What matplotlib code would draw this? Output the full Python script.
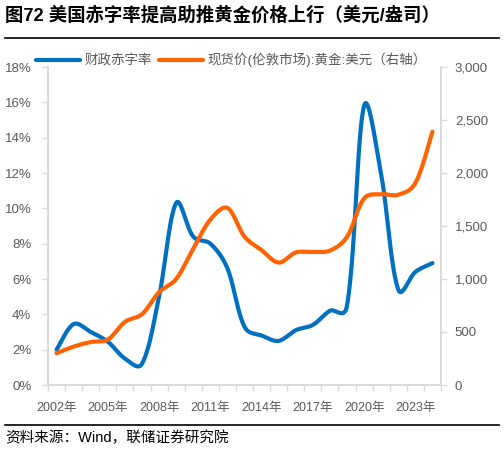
import numpy as np
import matplotlib.pyplot as plt
from matplotlib.lines import Line2D
from matplotlib.ticker import FuncFormatter, FixedLocator

plt.rcParams['font.family'] = ['Liberation Sans', 'Noto Sans CJK SC', 'DejaVu Sans']

years = list(range(2002, 2025))
# 财政赤字率 (%)
deficit = [2.0, 3.45, 3.0, 2.45, 1.5, 1.2, 5.0, 10.3, 8.4, 8.0, 6.6, 3.3,
           2.8, 2.5, 3.1, 3.4, 4.2, 4.5, 15.8, 11.9, 5.4, 6.4, 6.9]
# 黄金现货价 (美元/盎司)
gold = [300, 362, 405, 428, 595, 668, 875, 1000, 1285, 1560, 1670, 1400,
        1272, 1155, 1250, 1255, 1268, 1397, 1760, 1800, 1795, 1905, 2390]
xlabels = ['%d年' % y for y in years]

blue = '#0070C0'
orange = '#FF6200'
grey = '#595959'
axis_grey = '#D9D9D9'


def smooth(vals, ysc, xsc=17.09, steps=40, alpha=0.5):
    # excel-like smoothed line, built in pixel space so long jumps don't overshoot much
    P = np.column_stack([np.arange(len(vals)) * xsc, np.asarray(vals, float) * ysc])
    m = len(P)
    d = np.hypot(*(P[1:] - P[:-1]).T) ** alpha
    cout = np.zeros_like(P)
    cin = np.zeros_like(P)
    for i in range(m):
        prv = P[max(i - 1, 0)]
        nxt = P[min(i + 1, m - 1)]
        T = nxt - prv
        dp = d[i - 1] if i > 0 else 0.0
        dn = d[i] if i < m - 1 else 0.0
        if i == 0 or i == m - 1:
            dp = dn = 1.0
        tot = dp + dn
        cout[i] = P[i] + T * (dn / tot) / 3
        cin[i] = P[i] - T * (dp / tot) / 3
    t = np.linspace(0, 1, steps, endpoint=False)[:, None]
    pts = []
    for i in range(m - 1):
        b = ((1 - t)**3 * P[i] + 3 * (1 - t)**2 * t * cout[i]
             + 3 * (1 - t) * t**2 * cin[i + 1] + t**3 * P[i + 1])
        pts.append(b)
    pts.append(P[-1:])
    pts = np.vstack(pts)
    return pts[:, 0] / xsc, pts[:, 1] / ysc


fig = plt.figure(figsize=(5.04, 4.51), dpi=100)
ax = fig.add_axes([48 / 504, 1 - 385 / 451, 393 / 504, 318 / 451])
ax2 = ax.twinx()

x1, y1 = smooth(deficit, 318 / 18)
x2, y2 = smooth(gold, 318 / 3000)
l1, = ax.plot(x1, y1, color=blue, lw=3, solid_capstyle='round', label='财政赤字率')
l2, = ax2.plot(x2, y2, color=orange, lw=3, solid_capstyle='round',
               label='现货价(伦敦市场):黄金:美元（右轴）')

n = len(years)
ax.set_xlim(-0.5, n - 0.5)
ax.set_ylim(0, 18)
ax2.set_ylim(0, 3000)
ax.set_yticks(np.arange(0, 19, 2))
ax.yaxis.set_major_formatter(FuncFormatter(lambda v, p: '%d%%' % v))
ax2.set_yticks(np.arange(0, 3001, 500))
ax2.yaxis.set_major_formatter(FuncFormatter(lambda v, p: '{:,.0f}'.format(v)))

# ticks at category borders, labels every 3 years
ax.xaxis.set_major_locator(FixedLocator(np.arange(-0.5, n, 1)))
ax.xaxis.set_major_formatter(FuncFormatter(lambda v, p: ''))
ax.xaxis.set_minor_locator(FixedLocator(np.arange(0, n, 3)))
ax.xaxis.set_minor_formatter(FuncFormatter(lambda v, p: xlabels[int(round(v))]))
ax.tick_params(axis='x', which='major', direction='out', length=4, color=axis_grey, width=1)
ax.tick_params(axis='x', which='minor', length=0, pad=12, labelsize=9, labelcolor=grey)
ax.tick_params(axis='y', direction='out', length=4, color=axis_grey, width=1,
               labelsize=9.5, labelcolor=grey, pad=8)
ax2.tick_params(axis='y', direction='out', length=4, color=axis_grey, width=1,
                labelsize=9.5, labelcolor=grey, pad=6)

for a in (ax, ax2):
    a.spines['top'].set_visible(False)
    for s in ('left', 'right', 'bottom'):
        a.spines[s].set_color(axis_grey)
        a.spines[s].set_linewidth(1.2)

fig.legend([l1, l2], [l1.get_label(), l2.get_label()], loc='center left',
           bbox_to_anchor=(36 / 504, 1 - 60 / 451), ncol=2, frameon=False,
           fontsize=9.7, labelcolor=grey, handlelength=3.3, handletextpad=0.3,
           columnspacing=0.5, borderpad=0, borderaxespad=0)

fig.text(5 / 504, 1 - 16 / 451, '图72 美国赤字率提高助推黄金价格上行（美元/盎司）',
         fontsize=13.2, fontweight='bold', va='center', ha='left', color='black')
fig.add_artist(Line2D([5 / 504, 499 / 504], [1 - 38 / 451] * 2, color='black', lw=1.2))
fig.add_artist(Line2D([5 / 504, 499 / 504], [1 - 425 / 451] * 2, color='black', lw=1.2))
fig.text(5 / 504, 1 - 438 / 451, '资料来源：Wind，联储证券研究院',
         fontsize=10.5, va='center', ha='left', color='black')

fig.savefig('out.png', dpi=100)
